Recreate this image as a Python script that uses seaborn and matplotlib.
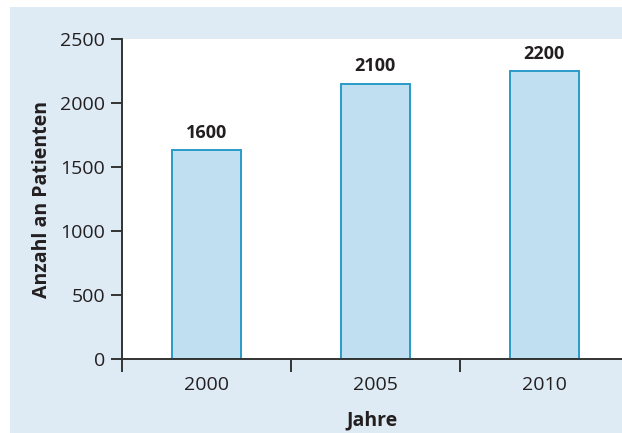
import matplotlib
matplotlib.use("Agg")
import matplotlib.pyplot as plt
import seaborn as sns
from matplotlib.patches import Rectangle

# Daten
jahre = ["2000", "2005", "2010"]
patienten = [1630, 2150, 2250]
beschriftung = ["1600", "2100", "2200"]

sns.set_style("white")
plt.rcParams['font.family'] = ['Open Sans', 'DejaVu Sans']

text_farbe = "#231f20"
balken_farbe = "#c0dff0"
rand_farbe = "#2a9bc8"
panel_farbe = "#deebf5"

fig = plt.figure(figsize=(6.22, 4.33), dpi=100)
fig.patch.set_facecolor("white")
fig.patches.append(Rectangle((10 / 622, 0.0), 612 / 622, 426 / 433,
                             transform=fig.transFigure, facecolor=panel_farbe,
                             edgecolor="none", zorder=-10))

ax = fig.add_axes([122 / 622, 1 - 359 / 433, 500 / 622, 320 / 433])
ax.set_facecolor("white")

sns.barplot(x=jahre, y=patienten, color=balken_farbe, edgecolor=rand_farbe,
            linewidth=1.4, width=0.405, saturation=1, ax=ax)

for i, txt in enumerate(beschriftung):
    ax.annotate(txt, (i, patienten[i]), xytext=(0, 6), textcoords="offset points",
                ha="center", va="bottom", fontsize=13, fontweight="bold",
                color=text_farbe)

ax.set_xlim(-0.5, 2.46)
ax.set_ylim(0, 2500)
ax.set_yticks([0, 500, 1000, 1500, 2000, 2500])
ax.set_xticks([-0.5, 0.5, 1.5], minor=True)

for s in ["top", "right"]:
    ax.spines[s].set_visible(False)
for s in ["left", "bottom"]:
    ax.spines[s].set_color("#333333")
    ax.spines[s].set_linewidth(1.4)

ax.tick_params(axis="y", which="major", direction="out", length=8, width=1.4,
               color="#333333", labelsize=14, labelcolor=text_farbe, pad=4, left=True)
ax.tick_params(axis="x", which="major", length=0, labelsize=14,
               labelcolor=text_farbe, pad=12)
ax.tick_params(axis="x", which="minor", direction="out", length=9, width=1.4,
               color="#333333", bottom=True)

ax.set_xlabel("Jahre", fontsize=14, fontweight="bold", color=text_farbe, labelpad=12)
ax.set_ylabel("Anzahl an Patienten", fontsize=14, fontweight="bold",
              color=text_farbe, labelpad=6)

fig.savefig("out.png", dpi=100)
